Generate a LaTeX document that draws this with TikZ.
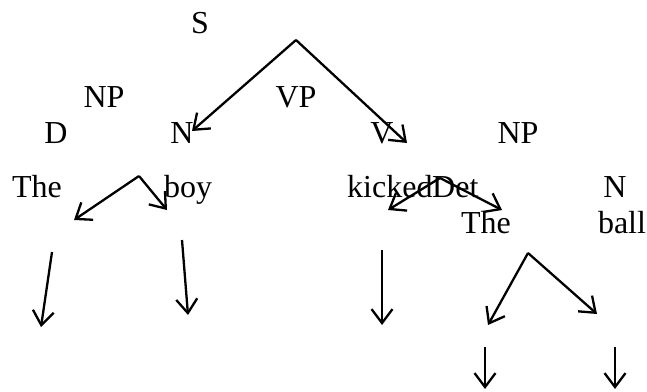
\documentclass[tikz,border=0pt]{standalone}
\usepackage{fontspec}
\setmainfont{Liberation Serif}
\usetikzlibrary{arrows.meta}
\begin{document}
\begin{tikzpicture}[x=1pt,y=-1pt,
  lbl/.style={inner sep=0pt,anchor=base,font=\fontsize{32}{38}\selectfont},
  lblw/.style={lbl,anchor=base west},
  branch/.style={line width=2.3pt,-{Straight Barb[length=14pt,width=21pt,line width=2.3pt]}}]
\useasboundingbox (0,0) rectangle (647,391);

% category and word labels
\node[lbl] (s)    at (200,33)  {S};
\node[lbl] (np1)  at (104,107) {NP};
\node[lbl] (vp)   at (296,107) {VP};
\node[lbl] (d)    at (56,143)  {D};
\node[lbl] (n1)   at (182,143) {N};
\node[lbl] (v)    at (382,143) {V};
\node[lbl] (np2)  at (518,143) {NP};
\node[lbl] (the1) at (37,197)  {The};
\node[lbl] (boy)  at (188,197) {boy};
\node[lblw] (kicked) at (347,197) {kicked};
\node[lblw] (det)    at (432,197) {Det};
\node[lbl] (n2)   at (615,197) {N};
\node[lbl] (the2) at (486,233) {The};
\node[lbl] (ball) at (622,233) {ball};

% branch points and arrow tips
\coordinate (a1) at (296,40);
\coordinate (t1) at (192,131);
\coordinate (t2) at (407,143);
\coordinate (a2) at (139,176);
\coordinate (t3) at (74,220);
\coordinate (t4) at (167,210);
\coordinate (a3) at (440,178);
\coordinate (t5) at (388,210);
\coordinate (t6) at (502,210);
\coordinate (b1) at (52,252);
\coordinate (t7) at (41,327);
\coordinate (b2) at (182,240);
\coordinate (t8) at (188,315);
\coordinate (b3) at (382,250);
\coordinate (t9) at (382,325);
\coordinate (a4) at (528,253);
\coordinate (t10) at (488,325);
\coordinate (t11) at (597,314);
\coordinate (b4) at (485,347);
\coordinate (t12) at (485,389);
\coordinate (b5) at (615,347);
\coordinate (t13) at (615,389);

% arrows
\draw[branch] (a1) -- (t1);
\draw[branch] (a1) -- (t2);
\draw[branch] (a2) -- (t3);
\draw[branch] (a2) -- (t4);
\draw[branch] (a3) -- (t5);
\draw[branch] (a3) -- (t6);
\draw[branch] (b1) -- (t7);
\draw[branch] (b2) -- (t8);
\draw[branch] (b3) -- (t9);
\draw[branch] (a4) -- (t10);
\draw[branch] (a4) -- (t11);
\draw[branch] (b4) -- (t12);
\draw[branch] (b5) -- (t13);
\end{tikzpicture}
\end{document}
